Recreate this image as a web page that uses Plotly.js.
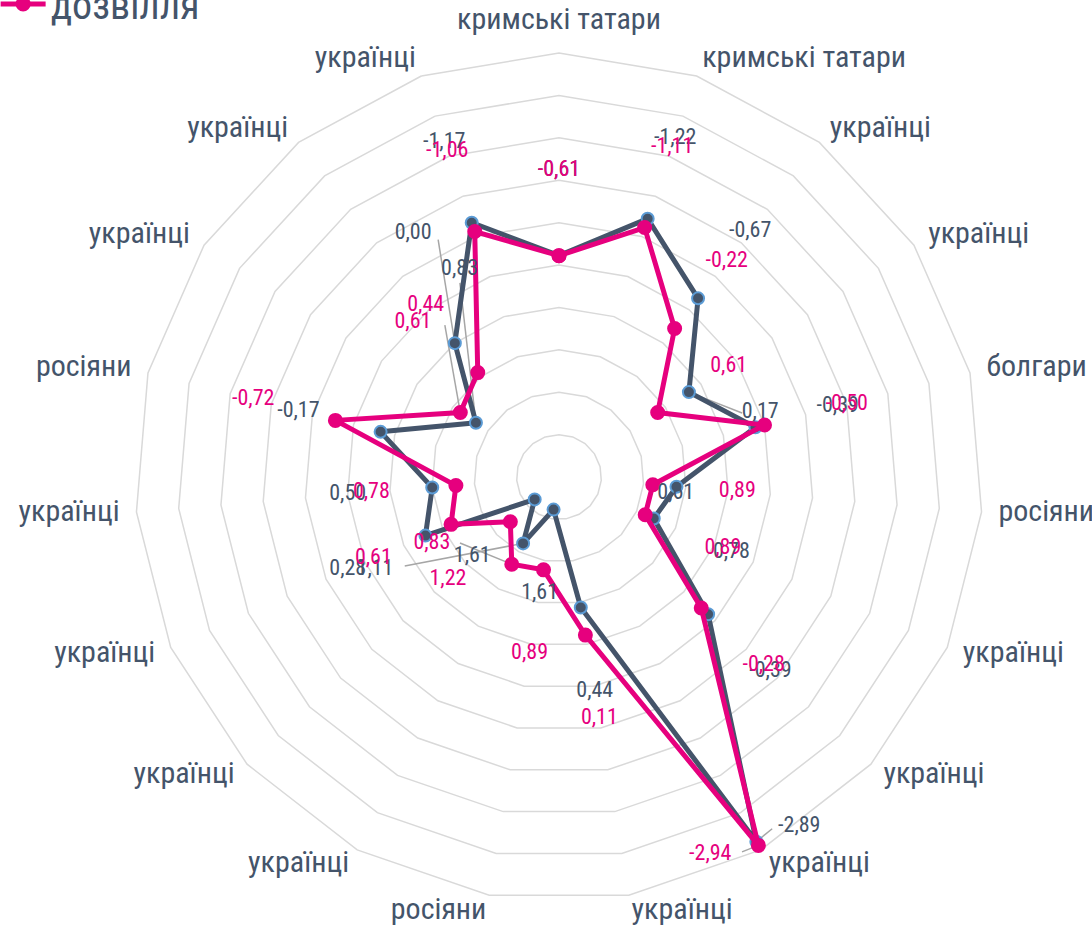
<!DOCTYPE html>
<html>
<head>
<meta charset="utf-8">
<script src="https://cdn.plot.ly/plotly-3.0.1.min.js"></script>
<style>
  html, body { margin: 0; padding: 0; background: #ffffff; }
  #chart { width: 1092px; height: 929px; }
</style>
</head>
<body>
<div id="chart"></div>
<script>
// ---- data ----
const categories = [
  "кримські татари", "кримські татари", "українці", "українці", "болгари",
  "росіяни", "українці", "українці", "українці", "українці",
  "росіяни", "українці", "українці", "українці", "українці",
  "росіяни", "українці", "українці", "українці"
];
const seriesNames = ["робота", "дозвілля"];
const darkValues = [-0.61, -1.22, -0.67, 0.17, -0.39, 0.61, 0.78, -0.39, -2.89, 0.44,
                    1.61, 1.11, 1.61, 0.28, 0.50, -0.17, 0.83, 0.00, -1.17];
const pinkValues = [-0.61, -1.11, -0.22, 0.61, -0.50, 0.89, 0.89, -0.28, -2.94, 0.11,
                    0.89, 0.83, 1.22, 0.61, 0.78, -0.72, 0.61, 0.44, -1.06];

// ---- styling / label placement (offsets relative to each point: [dr, dtheta]) ----
const DEFAULT_LABEL_OFFSET = [-1, 0];
const darkLabelOverrides = { 3: [-0.66, 15.5], 5: [0.0, 3.2], 8: [-0.11, -6.1], 11: [-1.54, 34.8], 16: [-1.54, 31.2], 17: [-1.35, 7.0] };
const pinkLabelOverrides = { 8: [0.14, 6.6], 11: [-0.52, 34.1], 16: [-1.12, 13.5] };
const darkLeaders = { 3: [-0.457, 13.9], 8: [0.04, -2.8], 11: [-1.21, 31.6], 16: [-1.40, 29.8], 17: [-1.14, 10.9] };
const pinkLeaders = { 8: [0.02, 2.4], 11: [-0.233, 27.9], 16: [-0.85, 19.9] };
const CATEGORY_LABEL_R = -3.2;   // radial position of the category names (outside the grid)

const DARK = '#44546A', PINK = '#E6007E', MARKER_EDGE = '#5B9BD5', GRID = '#D9D9D9', LEADER = '#A6A6A6';
const FONT = "'Liberation Sans Narrow', 'Roboto Condensed', 'Arial Narrow', Roboto, sans-serif";

const N = categories.length;
const keys = categories.map((c, i) => 'k' + i);
const step = 360 / N;
const angles = categories.map((c, i) => i * step);
const fmt = v => v.toFixed(2).replace('.', ',');

// carrier trace so that the categorical grid subplot is drawn (no visible marks)
const gridCarrier = {
  type: 'scatterpolar', subplot: 'polar', showlegend: false,
  r: darkValues, theta: keys, mode: 'none', hoverinfo: 'skip'
};
function seriesTrace(vals, name, color, edge, size) {
  return {
    type: 'scatterpolar', subplot: 'polar2', name: name,
    r: vals.concat([vals[0]]), theta: angles.concat([360]),
    mode: 'lines+markers',
    line: { color: color, width: 5 },
    marker: { size: size, color: color, line: { color: edge, width: 2 } },
    hoverinfo: 'skip', cliponaxis: false
  };
}
function labelTrace(vals, overrides, color) {
  return {
    type: 'scatterpolar', subplot: 'polar2', showlegend: false,
    r: vals.map((v, i) => v + (overrides[i] || DEFAULT_LABEL_OFFSET)[0]),
    theta: vals.map((v, i) => angles[i] + (overrides[i] || DEFAULT_LABEL_OFFSET)[1]),
    mode: 'text', text: vals.map(fmt), textposition: 'middle center',
    textfont: { family: FONT, size: 22, color: color },
    hoverinfo: 'skip', cliponaxis: false
  };
}
function leaderTrace(vals, leaders) {
  const r = [], th = [];
  Object.keys(leaders).forEach(k => {
    const i = +k, o = leaders[k];
    r.push(vals[i], vals[i] + o[0], null);
    th.push(angles[i], angles[i] + o[1], null);
  });
  return {
    type: 'scatterpolar', subplot: 'polar2', showlegend: false,
    r: r, theta: th, mode: 'lines', connectgaps: false,
    line: { color: LEADER, width: 1.5 }, hoverinfo: 'skip', cliponaxis: false
  };
}
const categoryLabels = {
  type: 'scatterpolar', subplot: 'polar2', showlegend: false,
  r: categories.map(() => CATEGORY_LABEL_R),
  theta: angles,
  mode: 'text', text: categories,
  textposition: categories.map((c, i) => i === 0 ? 'top center' : (i < N / 2 ? 'middle right' : 'middle left')),
  textfont: { family: FONT, size: 30, color: DARK },
  hoverinfo: 'skip', cliponaxis: false
};

const data = [
  gridCarrier,
  leaderTrace(darkValues, darkLeaders),
  leaderTrace(pinkValues, pinkLeaders),
  seriesTrace(darkValues, seriesNames[0], DARK, MARKER_EDGE, 12),
  seriesTrace(pinkValues, seriesNames[1], PINK, PINK, 13),
  labelTrace(darkValues, darkLabelOverrides, DARK),
  labelTrace(pinkValues, pinkLabelOverrides, PINK),
  categoryLabels
];

const layout = {
  width: 1092, height: 929,
  margin: { l: 0, r: 0, t: 0, b: 0, autoexpand: false },
  paper_bgcolor: '#ffffff',
  font: { family: FONT, color: DARK },
  showlegend: true,
  legend: {
    x: -0.004, xanchor: 'left', y: 1.090, yanchor: 'top',
    font: { family: FONT, size: 40, color: DARK },
    bgcolor: 'rgba(0,0,0,0)', itemwidth: 45
  },
  polar: {
    domain: { x: [0.1236, 0.9002], y: [0.0301, 0.9429] },
    bgcolor: 'rgba(0,0,0,0)',
    gridshape: 'linear',
    angularaxis: {
      type: 'category', categoryarray: keys, rotation: 90, direction: 'clockwise',
      showgrid: false, showline: true, linecolor: GRID, linewidth: 1.5, ticks: '',
      showticklabels: false
    },
    radialaxis: {
      range: [2, -3], tick0: 0, dtick: 0.5, showticklabels: false, ticks: '',
      showline: false, gridcolor: GRID, gridwidth: 1.5
    }
  },
  polar2: {
    domain: { x: [0.10421, 0.91960], y: [0.00732, 0.96577] },
    bgcolor: 'rgba(0,0,0,0)',
    angularaxis: { rotation: 90, direction: 'clockwise', visible: false, showgrid: false },
    radialaxis: { range: [2, -3.25], visible: false, showgrid: false }
  }
};

Plotly.newPlot('chart', data, layout, { staticPlot: true, displayModeBar: false });
</script>
</body>
</html>
